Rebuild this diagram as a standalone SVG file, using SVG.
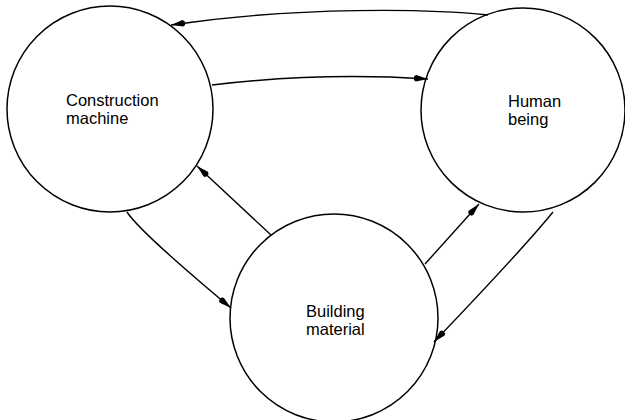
<svg xmlns="http://www.w3.org/2000/svg" width="625" height="420" viewBox="0 0 625 420">
<defs>
<style>
.node{fill:#fff;stroke:#000;stroke-width:1.5}
.lbl{font-family:"Liberation Sans",Arial,sans-serif;font-size:16.5px;fill:#000}
.conn{fill:none;stroke:#000;stroke-width:1.4;marker-end:url(#ah)}
</style>
<marker id="ah" viewBox="-16 -5 17 10" markerWidth="17" markerHeight="10" refX="0" refY="0" orient="auto" markerUnits="userSpaceOnUse">
<path d="M0,0 L-12,-3.2 L-14,-2 L-14,2 L-12,3.2 Z" fill="#000"/>
</marker>
</defs>
<rect width="625" height="420" fill="#fff"/>
<g id="construction-machine">
<circle class="node" cx="110" cy="109" r="103"/>
<text class="lbl" x="66" y="106">Construction</text>
<text class="lbl" x="66" y="124">machine</text>
</g>
<g id="human-being">
<circle class="node" cx="523" cy="110" r="102"/>
<text class="lbl" x="508" y="107">Human</text>
<text class="lbl" x="508" y="125">being</text>
</g>
<g id="building-material">
<circle class="node" cx="334" cy="318" r="104"/>
<text class="lbl" x="306" y="317">Building</text>
<text class="lbl" x="306" y="335">material</text>
</g>
<g id="connectors">
<path class="conn" d="M488,15 C430,9 300,6 171,25"/>
<path class="conn" d="M212,85 Q320,72 428,79"/>
<path class="conn" d="M271,235 L197,166"/>
<path class="conn" d="M127,212 Q140,232 231,308"/>
<path class="conn" d="M425,264 L479,204"/>
<path class="conn" d="M553,212 Q522,250 434,342"/>
</g>
</svg>
